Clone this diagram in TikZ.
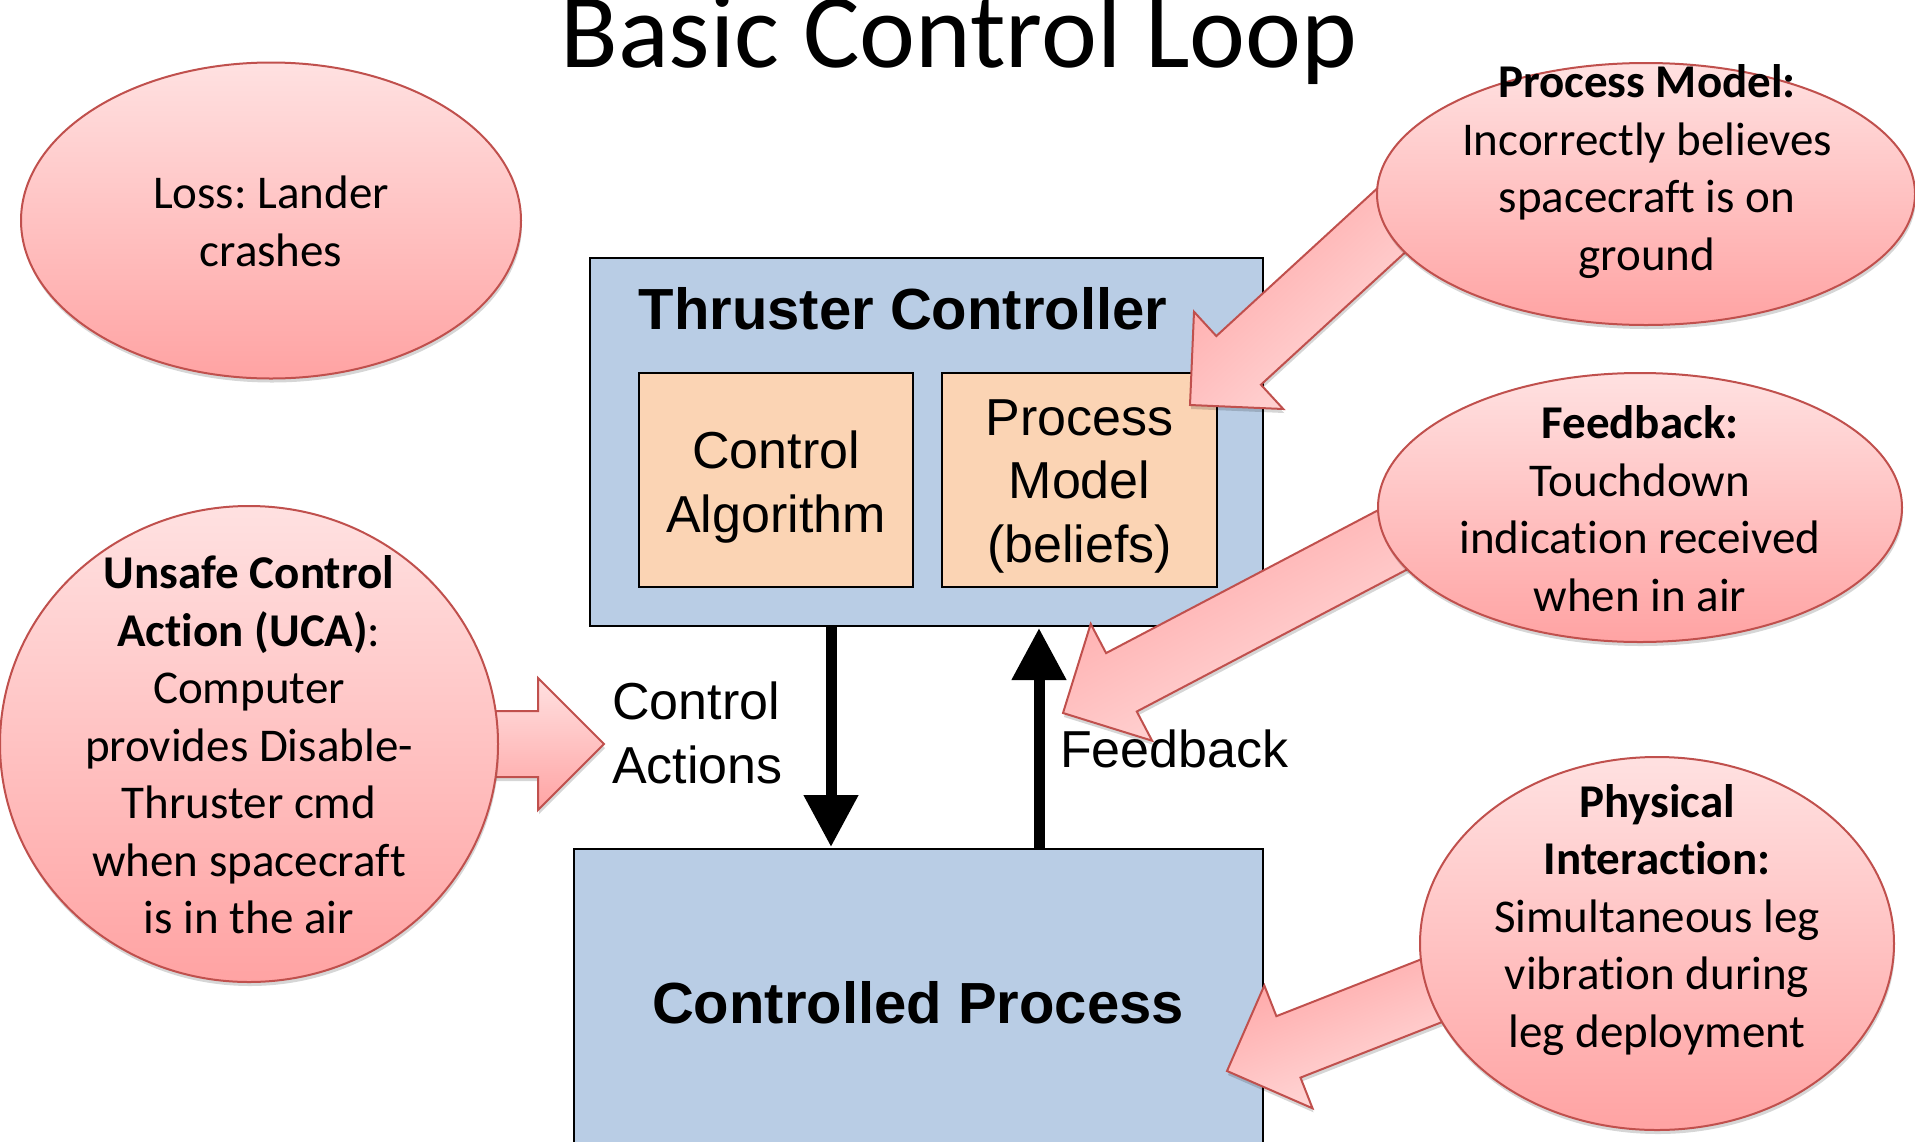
\documentclass[tikz,border=0pt]{standalone}
\usepackage{fontspec}
\setmainfont[Ligatures=NoCommon]{Carlito}
\newfontfamily\arialfont{Liberation Sans}
\usetikzlibrary{calc,shapes.geometric,arrows.meta,shadows}
\frenchspacing

\definecolor{ctrlblue}{HTML}{B9CDE5}
\definecolor{peach}{HTML}{FBD4B4}
\definecolor{pinktop}{HTML}{FFE1E1}
\definecolor{pinkbot}{HTML}{FFA3A3}
\definecolor{pinkedge}{HTML}{C0504D}

\tikzset{
  softshadow/.style={drop shadow={shadow xshift=1pt, shadow yshift=-4pt, opacity=0.16, fill=black}},
  bubble/.style={ellipse, draw=pinkedge, line width=2pt, top color=pinktop, bottom color=pinkbot,
    inner sep=0pt, outer sep=0pt, softshadow},
  bubbletext/.style={font=\fontsize{47}{57.5}\selectfont, align=center, inner sep=0pt},
  panel/.style={draw=black, line width=2pt, fill=ctrlblue, inner sep=0pt, outer sep=0pt, anchor=north west},
  subpanel/.style={draw=black, line width=2pt, fill=peach, inner sep=0pt, outer sep=0pt, anchor=north west},
  heading/.style={font=\arialfont\bfseries\fontsize{58}{66}\selectfont, inner sep=0pt, anchor=base},
  boxtext/.style={font=\arialfont\fontsize{52}{63.5}\selectfont, align=center, inner sep=0pt},
  flow/.style={line width=11pt, -{Triangle[length=52pt,width=52pt]}},
  blockarrow/.style={draw=pinkedge, line width=2pt, line join=miter, top color=pinktop, bottom color=pinkbot, softshadow}
}

% block arrow from a tip coordinate back to a tail coordinate
\newcommand\blockarrowpath[3]{%
  \coordinate (#1-base) at ($(#1)!66pt!(#2)$);
  \path[blockarrow, shading angle=#3] (#1)
    -- ($(#1-base)!66pt!90:(#2)$) -- ($(#1-base)!33pt!90:(#2)$)
    -- ($(#2)!33pt!-90:(#1)$) -- ($(#2)!33pt!90:(#1)$)
    -- ($(#1-base)!33pt!-90:(#2)$) -- ($(#1-base)!66pt!-90:(#2)$) -- cycle;}

\begin{document}
\begin{tikzpicture}[x=1pt, y=-1pt]
\useasboundingbox (0,0) rectangle (1915,1141);
\fill[white] (0,0) rectangle (1915,1141);

% title
\node[font=\fontsize{106}{127}\selectfont, anchor=base, inner sep=0pt] (title) at (959,67) {Basic Control Loop};

% controller and controlled process
\node[panel, minimum width=673pt, minimum height=368pt] (tc) at (590,258) {};
\node[subpanel, minimum width=274pt, minimum height=214pt] (ca) at (639,373) {};
\node[subpanel, minimum width=275pt, minimum height=214pt] (pm) at (942,373) {};
\node[panel, minimum width=689pt, minimum height=320pt] (cp) at (574,849) {};

\node[heading] (tctitle) at (903,329) {Thruster Controller};
\node[boxtext] (catext) at (776,487) {Control\\Algorithm};
\node[boxtext] (pmtext) at (1079.5,486) {Process\\Model\\(beliefs)};
\node[heading] (cptitle) at (918,1023) {Controlled Process};

% control actions and feedback
\coordinate (downtop) at (831,626);
\coordinate (downtip) at (831,847);
\coordinate (upbot) at (1039,848);
\coordinate (uptip) at (1039,628);
\draw[flow] (downtop) -- (downtip);
\draw[flow] (upbot) -- (uptip);
\node[boxtext, align=left, anchor=west] (calabel) at (612,733) {Control\\Actions};
\node[font=\arialfont\fontsize{52}{63.5}\selectfont, anchor=base west, inner sep=0pt] (fblabel) at (1060,767) {Feedback};

% pointer arrows from the annotations
\coordinate (tipA) at (1190,405);  \coordinate (tailA) at (1433,182);
\coordinate (tipB) at (1063,713);  \coordinate (tailB) at (1417,527);
\coordinate (tipC) at (1227,1071); \coordinate (tailC) at (1469,976);
\coordinate (tipD) at (604,744);   \coordinate (tailD) at (440,744);
\blockarrowpath{tipA}{tailA}{222.5}
\blockarrowpath{tipB}{tailB}{207.8}
\blockarrowpath{tipC}{tailC}{201.5}
\blockarrowpath{tipD}{tailD}{0}

% annotation bubbles
\node[bubble, minimum width=500pt, minimum height=316pt] (loss) at (271,220.5) {};
\node[bubble, minimum width=498pt, minimum height=476pt] (uca) at (249,744) {};
\node[bubble, minimum width=538pt, minimum height=262pt] (pmnote) at (1646,194) {};
\node[bubble, minimum width=524pt, minimum height=269pt] (fbnote) at (1640,507.5) {};
\node[bubble, minimum width=474pt, minimum height=373pt] (phnote) at (1657,943.5) {};

\node[bubbletext] (losstext) at (271,221.5) {Loss: Lander\\crashes};
\node[bubbletext] (ucatext) at (249,745) {\textbf{Unsafe Control}\\\textbf{Action (UCA)}:\\Computer\\provides Disable-\\Thruster cmd\\when spacecraft\\is in the air};
\node[bubbletext] (pmnotetext) at (1647,171.5) {\textbf{Process Model:}\\Incorrectly believes\\spacecraft is on\\ground};
\node[bubbletext] (fbnotetext) at (1640,508.5) {\textbf{Feedback:}\\Touchdown\\indication received\\when in air};
\node[bubbletext] (phnotetext) at (1657,920) {\textbf{Physical}\\\textbf{Interaction:}\\Simultaneous leg\\vibration during\\leg deployment};
\end{tikzpicture}
\end{document}
